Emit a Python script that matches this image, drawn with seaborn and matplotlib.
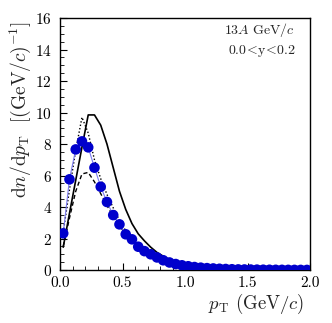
import numpy as np
import pandas as pd
import matplotlib
matplotlib.use("Agg")
import matplotlib.pyplot as plt
from matplotlib.ticker import MultipleLocator
import seaborn as sns

# pT bin centres (GeV/c)
pt = np.round(np.arange(0.025, 2.0, 0.05), 3)

# data points
data_y = [2.33, 5.76, 7.66, 8.17, 7.79, 6.50, 5.29, 4.32, 3.49, 2.90,
          2.27, 1.95, 1.48, 1.20, 1.00, 0.80, 0.62, 0.48, 0.38, 0.30,
          0.24, 0.19, 0.15, 0.12, 0.10, 0.08, 0.065, 0.05, 0.04, 0.035,
          0.03, 0.025, 0.02, 0.017, 0.014, 0.012, 0.010, 0.008, 0.007, 0.006]

# model curves
solid_y = [1.45, 3.6, 5.7, 7.8, 9.85, 9.85, 9.2, 8.0, 6.5, 5.0,
           3.85, 2.95, 2.3, 1.85, 1.45, 1.12, 0.88, 0.66, 0.50, 0.38,
           0.28, 0.21, 0.16, 0.12, 0.09, 0.07, 0.05, 0.04, 0.03, 0.025,
           0.02, 0.015, 0.012, 0.01, 0.008, 0.006, 0.005, 0.004, 0.003, 0.003]
dotted_y = [2.4, 5.1, 7.6, 9.7, 8.7, 7.0, 5.8, 4.8, 3.95, 3.15,
            2.5, 2.0, 1.55, 1.2, 0.95, 0.74, 0.57, 0.44, 0.34, 0.26,
            0.2, 0.15, 0.12, 0.09, 0.07, 0.05, 0.04, 0.03, 0.025, 0.02,
            0.015, 0.012, 0.01, 0.008, 0.006, 0.005, 0.004, 0.003, 0.003, 0.002]
dashed_y = [1.5, 3.3, 5.0, 6.1, 6.2, 5.6, 4.85, 4.1, 3.4, 2.8,
            2.3, 1.85, 1.5, 1.2, 0.95, 0.75, 0.6, 0.47, 0.37, 0.29,
            0.22, 0.17, 0.13, 0.10, 0.08, 0.06, 0.05, 0.04, 0.03, 0.025,
            0.02, 0.015, 0.012, 0.01, 0.008, 0.006, 0.005, 0.004, 0.003, 0.003]

df = pd.DataFrame({"pt": pt, "data": data_y, "solid": solid_y,
                   "dotted": dotted_y, "dashed": dashed_y})

sns.set_style("ticks")
plt.rcParams["font.family"] = "cmr10"
plt.rcParams["mathtext.fontset"] = "cm"
plt.rcParams["axes.formatter.use_mathtext"] = True

fig = plt.figure(figsize=(3.32, 3.23), dpi=100)
ax = fig.add_axes([0.181, 0.164, 0.753, 0.78])

sns.lineplot(data=df, x="pt", y="solid", color="black", lw=1.2, ax=ax)
sns.lineplot(data=df, x="pt", y="dotted", color="black", lw=1.0, ls=(0, (1, 1.5)), ax=ax)
sns.lineplot(data=df, x="pt", y="dashed", color="black", lw=1.0, ls=(0, (3, 2)), ax=ax)
sns.lineplot(data=df, x="pt", y="data", color="#7b7bf0", lw=0.8, ax=ax)
sns.scatterplot(data=df, x="pt", y="data", color="#0000cc", s=58, edgecolor="none", zorder=5, ax=ax)

ax.set_xlim(0, 2.0)
ax.set_ylim(0, 16)
ax.xaxis.set_major_locator(MultipleLocator(0.5))
ax.xaxis.set_minor_locator(MultipleLocator(0.1))
ax.yaxis.set_major_locator(MultipleLocator(2))
ax.yaxis.set_minor_locator(MultipleLocator(0.5))
ax.xaxis.set_major_formatter(plt.FuncFormatter(lambda v, p: f"{v:.1f}"))
ax.tick_params(which="both", direction="in", labelsize=11, colors="black")
ax.tick_params(which="major", length=5)
ax.tick_params(which="minor", length=3)
ax.tick_params(axis="x", pad=4.5)
ax.tick_params(axis="y", pad=6)
for s in ax.spines.values():
    s.set_linewidth(1.0)
    s.set_color("black")

ax.set_xlabel(r"$p_\mathrm{T}$ $(\mathrm{GeV}/c)$", fontsize=13.5, loc="right")
ax.xaxis.set_label_coords(0.975, -0.085)
ax.set_ylabel(r"$\mathrm{d}n/\mathrm{d}p_\mathrm{T}\ \ [(\mathrm{GeV}/c)^{-1}]$", fontsize=14)
ax.yaxis.set_label_coords(-0.11, 0.635)
ax.text(0.94, 0.99, r"$13A\ \mathrm{GeV}/c$", transform=ax.transAxes, ha="right", va="top", fontsize=10)
ax.text(0.94, 0.9, r"$0.0\!<\!\mathrm{y}\!<\!0.2$", transform=ax.transAxes, ha="right", va="top", fontsize=10)

fig.savefig("out.png", dpi=100)
